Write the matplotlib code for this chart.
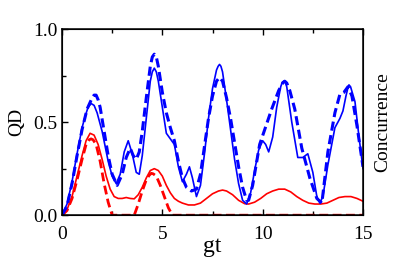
import matplotlib
matplotlib.use("Agg")
import matplotlib.pyplot as plt
from matplotlib.ticker import MultipleLocator

# values
t_blue_solid = [0, 0.25, 0.5, 0.75, 1.0, 1.15, 1.3, 1.45, 1.6, 1.75, 2.0, 2.3, 2.5, 2.7, 2.9, 3.1, 3.3, 3.5,
                3.7, 3.85, 4.0, 4.2, 4.4, 4.5, 4.6, 4.7, 4.8, 5.0, 5.2, 5.4, 5.6, 5.8, 6.0, 6.2, 6.35, 6.5,
                6.7, 6.9, 7.1, 7.3, 7.5, 7.7, 7.78, 7.85, 7.92, 8.0, 8.2, 8.4, 8.6, 8.8, 9.0, 9.2, 9.4, 9.6,
                9.8, 10.0, 10.15, 10.3, 10.5, 10.7, 10.9, 10.98, 11.05, 11.12, 11.2, 11.45, 11.75, 12.0, 12.25,
                12.5, 12.7, 12.85, 13.0, 13.25, 13.6, 13.85, 14.0, 14.15, 14.25, 14.3, 14.38, 14.6, 14.8, 15.0]
qd_solid = [0, 0.06, 0.18, 0.33, 0.47, 0.53, 0.58, 0.60, 0.59, 0.55, 0.45, 0.29, 0.21, 0.17, 0.22, 0.34, 0.40, 0.33,
            0.23, 0.22, 0.32, 0.52, 0.72, 0.77, 0.79, 0.77, 0.72, 0.58, 0.44, 0.41, 0.38, 0.26, 0.18, 0.22, 0.26, 0.20,
            0.10, 0.16, 0.33, 0.52, 0.68, 0.78, 0.80, 0.81, 0.80, 0.77, 0.62, 0.46, 0.30, 0.17, 0.08, 0.06, 0.12, 0.24,
            0.35, 0.40, 0.38, 0.34, 0.42, 0.58, 0.69, 0.715, 0.72, 0.715, 0.69, 0.50, 0.31, 0.31, 0.33,
            0.23, 0.10, 0.065, 0.10, 0.27, 0.47, 0.52, 0.56, 0.64, 0.685, 0.70, 0.69, 0.61, 0.42, 0.25]

t_blue_dash = [0, 0.25, 0.5, 0.75, 1.0, 1.25, 1.5, 1.6, 1.7, 1.8, 1.9, 2.1, 2.3, 2.5, 2.75, 3.0, 3.2, 3.4,
               3.55, 3.7, 3.85, 4.0, 4.2, 4.4, 4.5, 4.6, 4.7, 4.8, 5.0, 5.2, 5.4, 5.6, 5.8, 6.0, 6.2, 6.45,
               6.7, 6.9, 7.1, 7.3, 7.5, 7.7, 7.85, 8.0, 8.2, 8.4, 8.6, 8.8, 9.0, 9.2, 9.3, 9.5,
               9.85, 10.45, 10.8, 11.0, 11.1, 11.2, 11.35, 11.6, 11.95, 12.35, 12.7, 12.95, 13.25, 13.6, 13.85,
               14.05, 14.25, 14.45, 14.7, 15.0]
qd_dash = [0, 0.05, 0.17, 0.32, 0.46, 0.57, 0.63, 0.645, 0.645, 0.62, 0.58, 0.45, 0.32, 0.22, 0.16, 0.22, 0.31, 0.36,
           0.32, 0.30, 0.34, 0.45, 0.63, 0.80, 0.85, 0.865, 0.85, 0.80, 0.66, 0.55, 0.47, 0.40, 0.29, 0.20, 0.15, 0.13,
           0.14, 0.22, 0.37, 0.52, 0.64, 0.72, 0.74, 0.72, 0.63, 0.52, 0.39, 0.26, 0.15, 0.08, 0.08, 0.16,
           0.38, 0.57, 0.67, 0.71, 0.72, 0.71, 0.67, 0.57, 0.36, 0.20, 0.09, 0.065, 0.34, 0.55, 0.65,
           0.66, 0.69, 0.64, 0.48, 0.26]

t_red_solid = [0, 0.25, 0.5, 0.75, 1.0, 1.2, 1.4, 1.6, 1.8, 2.0, 2.2, 2.4, 2.6, 2.8, 3.0, 3.2, 3.4,
               3.6, 3.8, 4.0, 4.2, 4.4, 4.6, 4.8, 5.0, 5.2, 5.4, 5.6, 5.8, 6.0, 6.3, 6.6, 6.9, 7.2,
               7.5, 7.8, 8.0, 8.2, 8.5, 8.8, 9.1, 9.3, 9.6, 9.9, 10.2, 10.5, 10.8, 11.1, 11.4, 11.7,
               12.0, 12.3, 12.6, 12.9, 13.2, 13.5, 13.8, 14.1, 14.4, 14.7, 15.0]
conc_solid = [0, 0.03, 0.10, 0.21, 0.32, 0.40, 0.44, 0.43, 0.38, 0.30, 0.21, 0.14, 0.10, 0.09, 0.09, 0.095, 0.09,
              0.088, 0.11, 0.15, 0.20, 0.24, 0.25, 0.24, 0.21, 0.16, 0.12, 0.09, 0.075, 0.065, 0.055, 0.055, 0.065, 0.09,
              0.115, 0.13, 0.135, 0.13, 0.11, 0.08, 0.062, 0.06, 0.07, 0.09, 0.115, 0.13, 0.14, 0.14, 0.125, 0.10,
              0.08, 0.065, 0.06, 0.06, 0.065, 0.08, 0.095, 0.10, 0.10, 0.09, 0.075]

t_red_dash = [0, 0.25, 0.5, 0.75, 1.0, 1.2, 1.35, 1.45, 1.55, 1.7, 1.9, 2.1, 2.3, 2.5, 3.6, 3.8, 4.0, 4.2,
              4.35, 4.45, 4.55, 4.7, 4.9, 5.1, 5.3, 5.5, 15.0]
conc_dash = [0, 0.025, 0.09, 0.19, 0.30, 0.38, 0.405, 0.41, 0.405, 0.38, 0.29, 0.17, 0.07, 0.0, 0.0, 0.06, 0.13, 0.19,
             0.215, 0.225, 0.222, 0.21, 0.16, 0.10, 0.04, 0.0, 0.0]

plt.rcParams["font.family"] = ["Liberation Serif", "DejaVu Serif"]

fig = plt.figure(figsize=(4.0, 2.69), dpi=100)
ax = fig.add_axes([0.155, 0.2, 0.7525, 0.692])

ax.plot(t_red_dash, conc_dash, color="red", lw=2.0, dashes=(3.2, 1.6))
ax.plot(t_red_solid, conc_solid, color="red", lw=1.2)
ax.plot(t_blue_dash, qd_dash, color="blue", lw=2.2, dashes=(3.0, 1.5))
ax.plot(t_blue_solid, qd_solid, color="blue", lw=1.2)

ax.set_xlim(0, 15)
ax.set_ylim(0, 1)
ax.xaxis.set_major_locator(MultipleLocator(5))
ax.xaxis.set_minor_locator(MultipleLocator(2.5))
ax.yaxis.set_minor_locator(MultipleLocator(0.25))
ax.set_yticks([0, 0.5, 1.0])
ax.set_yticklabels(["0.0", "0.5", "1.0"])

ax.tick_params(which="both", direction="in", top=True, right=True, width=1.0, labelsize=14)
ax.tick_params(which="major", length=4.5)
ax.tick_params(which="minor", length=3)
ax.tick_params(axis="x", pad=8)
ax.tick_params(axis="y", pad=3)
for s in ax.spines.values():
    s.set_linewidth(1.1)

ax.set_xlabel("gt", fontsize=17, labelpad=-5)
ax.set_ylabel("QD", fontsize=14, labelpad=6)
ax2 = ax.twinx()
ax2.set_ylim(0, 1)
ax2.set_yticks([])
ax2.set_ylabel("Concurrence", fontsize=14, labelpad=8)

fig.savefig("out.png", dpi=100)
